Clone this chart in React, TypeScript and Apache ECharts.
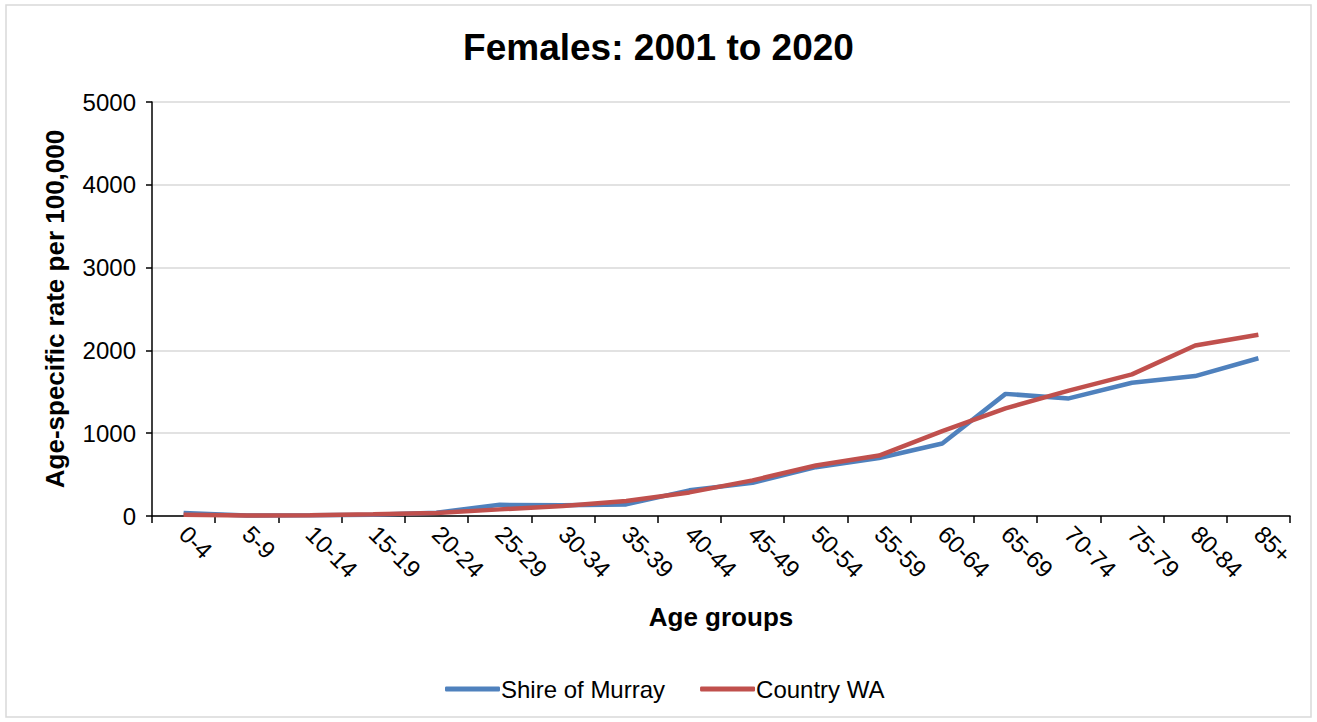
import React, { useEffect, useRef } from "react";
import * as echarts from "echarts";

const categories = ["0-4", "5-9", "10-14", "15-19", "20-24", "25-29", "30-34", "35-39", "40-44", "45-49", "50-54", "55-59", "60-64", "65-69", "70-74", "75-79", "80-84", "85+"];
const shireOfMurray = [35, 5, 8, 15, 40, 135, 130, 140, 310, 400, 590, 700, 875, 1475, 1420, 1610, 1690, 1905];
const countryWA = [15, 5, 10, 20, 35, 80, 120, 180, 285, 430, 610, 730, 1025, 1300, 1515, 1710, 2060, 2190];
const yTicks = { min: 0, max: 5000, interval: 1000 };

const FONT = "'Liberation Sans', Arial, sans-serif";

export default function App() {
  const ref = useRef<HTMLDivElement>(null);
  useEffect(() => {
    if (!ref.current) return;
    const chart = echarts.init(ref.current, null, { renderer: "svg" });
    chart.setOption({
      animation: false,
      backgroundColor: "#ffffff",
      textStyle: { fontFamily: FONT, color: "#000" },
      title: {
        text: "Females: 2001 to 2020",
        left: "center",
        top: 24,
        textStyle: { fontFamily: FONT, fontSize: 37, fontWeight: "bold", color: "#000" },
      },
      graphic: [
        {
          type: "rect",
          shape: { x: 6, y: 5, width: 1305, height: 712 },
          style: { fill: "none", stroke: "#d9d9d9", lineWidth: 1.5 },
          silent: true,
          z: -1,
        },
      ],
      legend: {
        left: 440,
        top: 672,
        icon: "roundRect",
        itemWidth: 55,
        itemHeight: 5,
        itemGap: 35,
        textStyle: { fontFamily: FONT, fontSize: 24, color: "#000", padding: [0, 0, 0, -4] },
        data: ["Shire of Murray", "Country WA"],
      },
      grid: { left: 152, right: 27, top: 102, bottom: 206, containLabel: false },
      xAxis: {
        type: "category",
        data: categories,
        boundaryGap: true,
        name: "Age groups",
        nameLocation: "middle",
        nameGap: 88,
        nameTextStyle: { fontFamily: FONT, fontSize: 26, fontWeight: "bold", color: "#000" },
        axisLine: { lineStyle: { color: "#000", width: 1.5 } },
        axisTick: { show: true, length: 7, lineStyle: { color: "#000", width: 1.5 } },
        axisLabel: { rotate: -45, margin: 14, fontFamily: FONT, fontSize: 24, color: "#000", interval: 0 },
        splitLine: { show: false },
      },
      yAxis: {
        type: "value",
        min: yTicks.min,
        max: yTicks.max,
        interval: yTicks.interval,
        name: "Age-specific rate per 100,000",
        nameLocation: "middle",
        nameGap: 84,
        nameTextStyle: { fontFamily: FONT, fontSize: 26, fontWeight: "bold", color: "#000" },
        axisLine: { show: true, lineStyle: { color: "#000", width: 1.5 } },
        axisTick: { show: true, length: 6, lineStyle: { color: "#000", width: 1.5 } },
        axisLabel: {
          margin: 16,
          fontFamily: FONT,
          fontSize: 24,
          color: "#000",
          formatter: (v: number) => String(v),
        },
        splitLine: { show: true, lineStyle: { color: "#d9d9d9", width: 1.5 } },
      },
      series: [
        {
          name: "Shire of Murray",
          type: "line",
          data: shireOfMurray,
          showSymbol: false,
          symbol: "none",
          lineStyle: { color: "#4f81bd", width: 4.5 },
          itemStyle: { color: "#4f81bd" },
        },
        {
          name: "Country WA",
          type: "line",
          data: countryWA,
          showSymbol: false,
          symbol: "none",
          lineStyle: { color: "#c0504d", width: 4.5 },
          itemStyle: { color: "#c0504d" },
        },
      ],
    });
    return () => chart.dispose();
  }, []);
  return (
    <div
      ref={ref}
      style={{ position: "fixed", left: 0, top: 0, width: 1317, height: 722, background: "#fff" }}
    />
  );
}
